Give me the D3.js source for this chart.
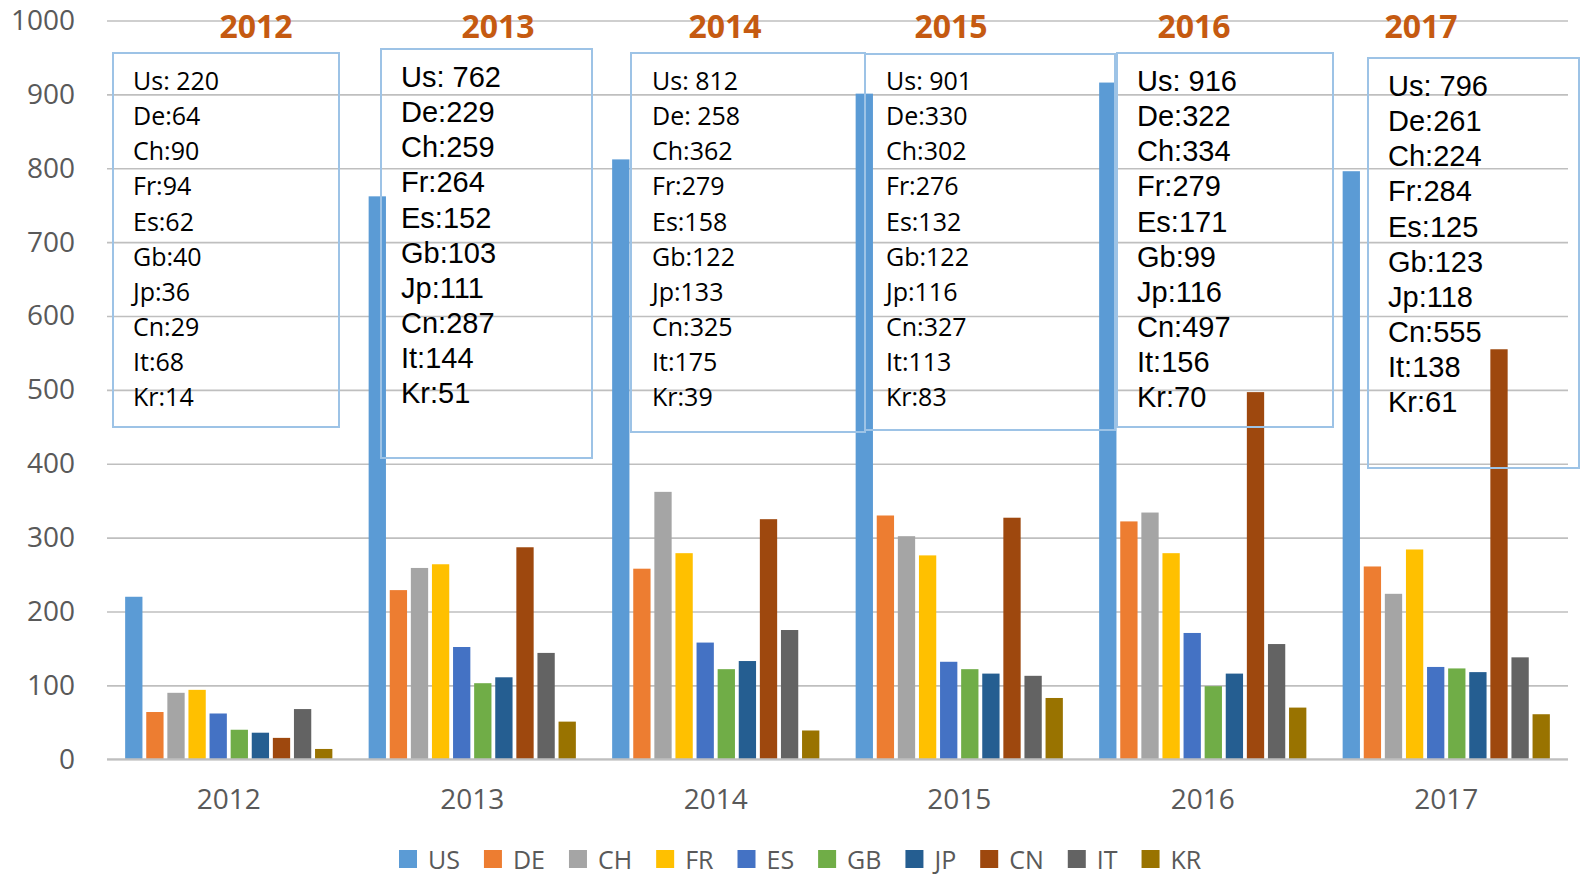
<!DOCTYPE html>
<html>
<head>
<meta charset="utf-8">
<script src="https://cdn.jsdelivr.net/npm/d3@7"></script>
<style>
  body { margin: 0; background: #fff; }
  svg { display: block; }
</style>
</head>
<body>
<svg id="chart" width="1587" height="877"></svg>
<script>
// data
const years = ["2012", "2013", "2014", "2015", "2016", "2017"];
const countries = ["US", "DE", "CH", "FR", "ES", "GB", "JP", "CN", "IT", "KR"];
const shortNames = ["Us", "De", "Ch", "Fr", "Es", "Gb", "Jp", "Cn", "It", "Kr"];
const us = [220, 762, 812, 901, 916, 796];
const de = [64, 229, 258, 330, 322, 261];
const ch = [90, 259, 362, 302, 334, 224];
const fr = [94, 264, 279, 276, 279, 284];
const es = [62, 152, 158, 132, 171, 125];
const gb = [40, 103, 122, 122, 99, 123];
const jp = [36, 111, 133, 116, 116, 118];
const cn = [29, 287, 325, 327, 497, 555];
const it = [68, 144, 175, 113, 156, 138];
const kr = [14, 51, 39, 83, 70, 61];
const yTicks = [0, 100, 200, 300, 400, 500, 600, 700, 800, 900, 1000];

const series = [us, de, ch, fr, es, gb, jp, cn, it, kr];
const colors = ["#5B9BD5", "#ED7D31", "#A5A5A5", "#FFC000", "#4472C4",
                "#70AD47", "#255E91", "#9E480E", "#636363", "#997300"];

// hand-placed annotation boxes (like the text boxes in the original sheet)
const calibri = "'Open Sans', sans-serif", arial = "'Liberation Sans', Arial, sans-serif";
const boxes = [
  { x: 113, y: 53, w: 226, h: 374, font: calibri, size: 25, tx: 133, ty: 90 },
  { x: 381, y: 49, w: 211, h: 409, font: arial, size: 29, tx: 401, ty: 87 },
  { x: 631, y: 53, w: 234, h: 379, font: calibri, size: 25, tx: 652, ty: 90 },
  { x: 865, y: 54, w: 250, h: 376, font: calibri, size: 25, tx: 886, ty: 90 },
  { x: 1117, y: 53, w: 216, h: 374, font: arial, size: 29, tx: 1137, ty: 91 },
  { x: 1368, y: 58, w: 211, h: 410, font: arial, size: 29, tx: 1388, ty: 96 }
];
const titleX = [256, 498, 725, 951, 1194, 1421];

const svg = d3.select("#chart"),
  margin = { top: 20.5, right: 19, bottom: 117.7, left: 107 },
  width = +svg.attr("width") - margin.left - margin.right,
  height = +svg.attr("height") - margin.top - margin.bottom;

const x0 = d3.scaleBand().domain(years).range([0, width]),
  x1 = d3.scaleBand().domain(countries).range([0, x0.bandwidth()])
    .paddingInner(0.18).paddingOuter(0.86),
  y = d3.scaleLinear().domain([0, 1000]).range([height, 0]);

const g = svg.append("g")
  .attr("transform", `translate(${margin.left},${margin.top})`);

// gridlines
g.append("g")
  .attr("class", "grid")
  .call(d3.axisLeft(y).tickValues(yTicks).tickSize(-width).tickFormat(""))
  .call(s => s.select(".domain").remove())
  .call(s => s.selectAll("line").attr("stroke", "#BFBFBF").attr("stroke-width", 1.6));

// y tick labels
g.append("g")
  .attr("class", "axis axis--y")
  .call(d3.axisLeft(y).tickValues(yTicks).tickFormat(d3.format("d")).tickSize(0).tickPadding(32))
  .call(s => s.select(".domain").remove())
  .selectAll("text")
  .attr("fill", "#595959")
  .style("font-family", calibri)
  .style("font-size", "28px");

// x labels
g.append("g")
  .attr("class", "axis axis--x")
  .attr("transform", `translate(0,${height})`)
  .call(d3.axisBottom(x0).tickSize(0).tickPadding(30))
  .call(s => s.select(".domain").remove())
  .selectAll("text")
  .attr("fill", "#595959")
  .style("font-family", calibri)
  .style("font-size", "28px");

// annotation boxes (no fill, gridlines show through)
svg.selectAll(".box")
  .data(boxes)
  .enter()
  .append("rect")
  .attr("class", "box")
  .attr("x", d => d.x)
  .attr("y", d => d.y)
  .attr("width", d => d.w)
  .attr("height", d => d.h)
  .attr("fill", "none")
  .attr("stroke", "#9DC3E6")
  .attr("stroke-width", 2);

// bars
const groups = g.selectAll(".year")
  .data(years)
  .enter()
  .append("g")
  .attr("class", "year")
  .attr("transform", d => `translate(${x0(d)},0)`);

groups.selectAll("rect")
  .data((d, i) => countries.map((c, k) => ({ c, v: series[k][i], k })))
  .enter()
  .append("rect")
  .attr("x", d => x1(d.c))
  .attr("y", d => y(d.v))
  .attr("width", x1.bandwidth())
  .attr("height", d => height - y(d.v))
  .attr("fill", d => colors[d.k]);

// axis baseline
g.append("line")
  .attr("x1", 0).attr("x2", width)
  .attr("y1", height).attr("y2", height)
  .attr("stroke", "#BFBFBF").attr("stroke-width", 2);

// box texts
boxes.forEach((b, i) => {
  const t = svg.append("text")
    .attr("x", b.tx)
    .attr("y", b.ty)
    .style("font-family", b.font)
    .style("font-size", b.size + "px")
    .attr("fill", "#000");
  shortNames.forEach((n, k) => {
    const sep = (k === 0 || (i === 2 && k === 1)) ? ": " : ":";
    t.append("tspan")
      .attr("x", b.tx)
      .attr("y", b.ty + k * 35.15)
      .text(n + sep + series[k][i]);
  });
});

// year titles
svg.selectAll(".title")
  .data(years)
  .enter()
  .append("text")
  .attr("class", "title")
  .attr("x", (d, i) => titleX[i])
  .attr("y", 38)
  .attr("text-anchor", "middle")
  .attr("fill", "#C55A11")
  .style("font-family", calibri)
  .style("font-weight", "bold")
  .style("font-size", "32px")
  .text(d => d);

// legend
const legend = svg.append("g").attr("transform", "translate(399,850)");
let lx = 0;
countries.forEach((c, k) => {
  legend.append("rect")
    .attr("x", lx).attr("y", 0)
    .attr("width", 18).attr("height", 18)
    .attr("fill", colors[k]);
  const t = legend.append("text")
    .attr("x", lx + 29)
    .attr("y", 18.5)
    .attr("fill", "#595959")
    .style("font-family", calibri)
    .style("font-size", "25px")
    .text(c);
  lx += 29 + t.node().getComputedTextLength() + 24;
});
</script>
</body>
</html>
